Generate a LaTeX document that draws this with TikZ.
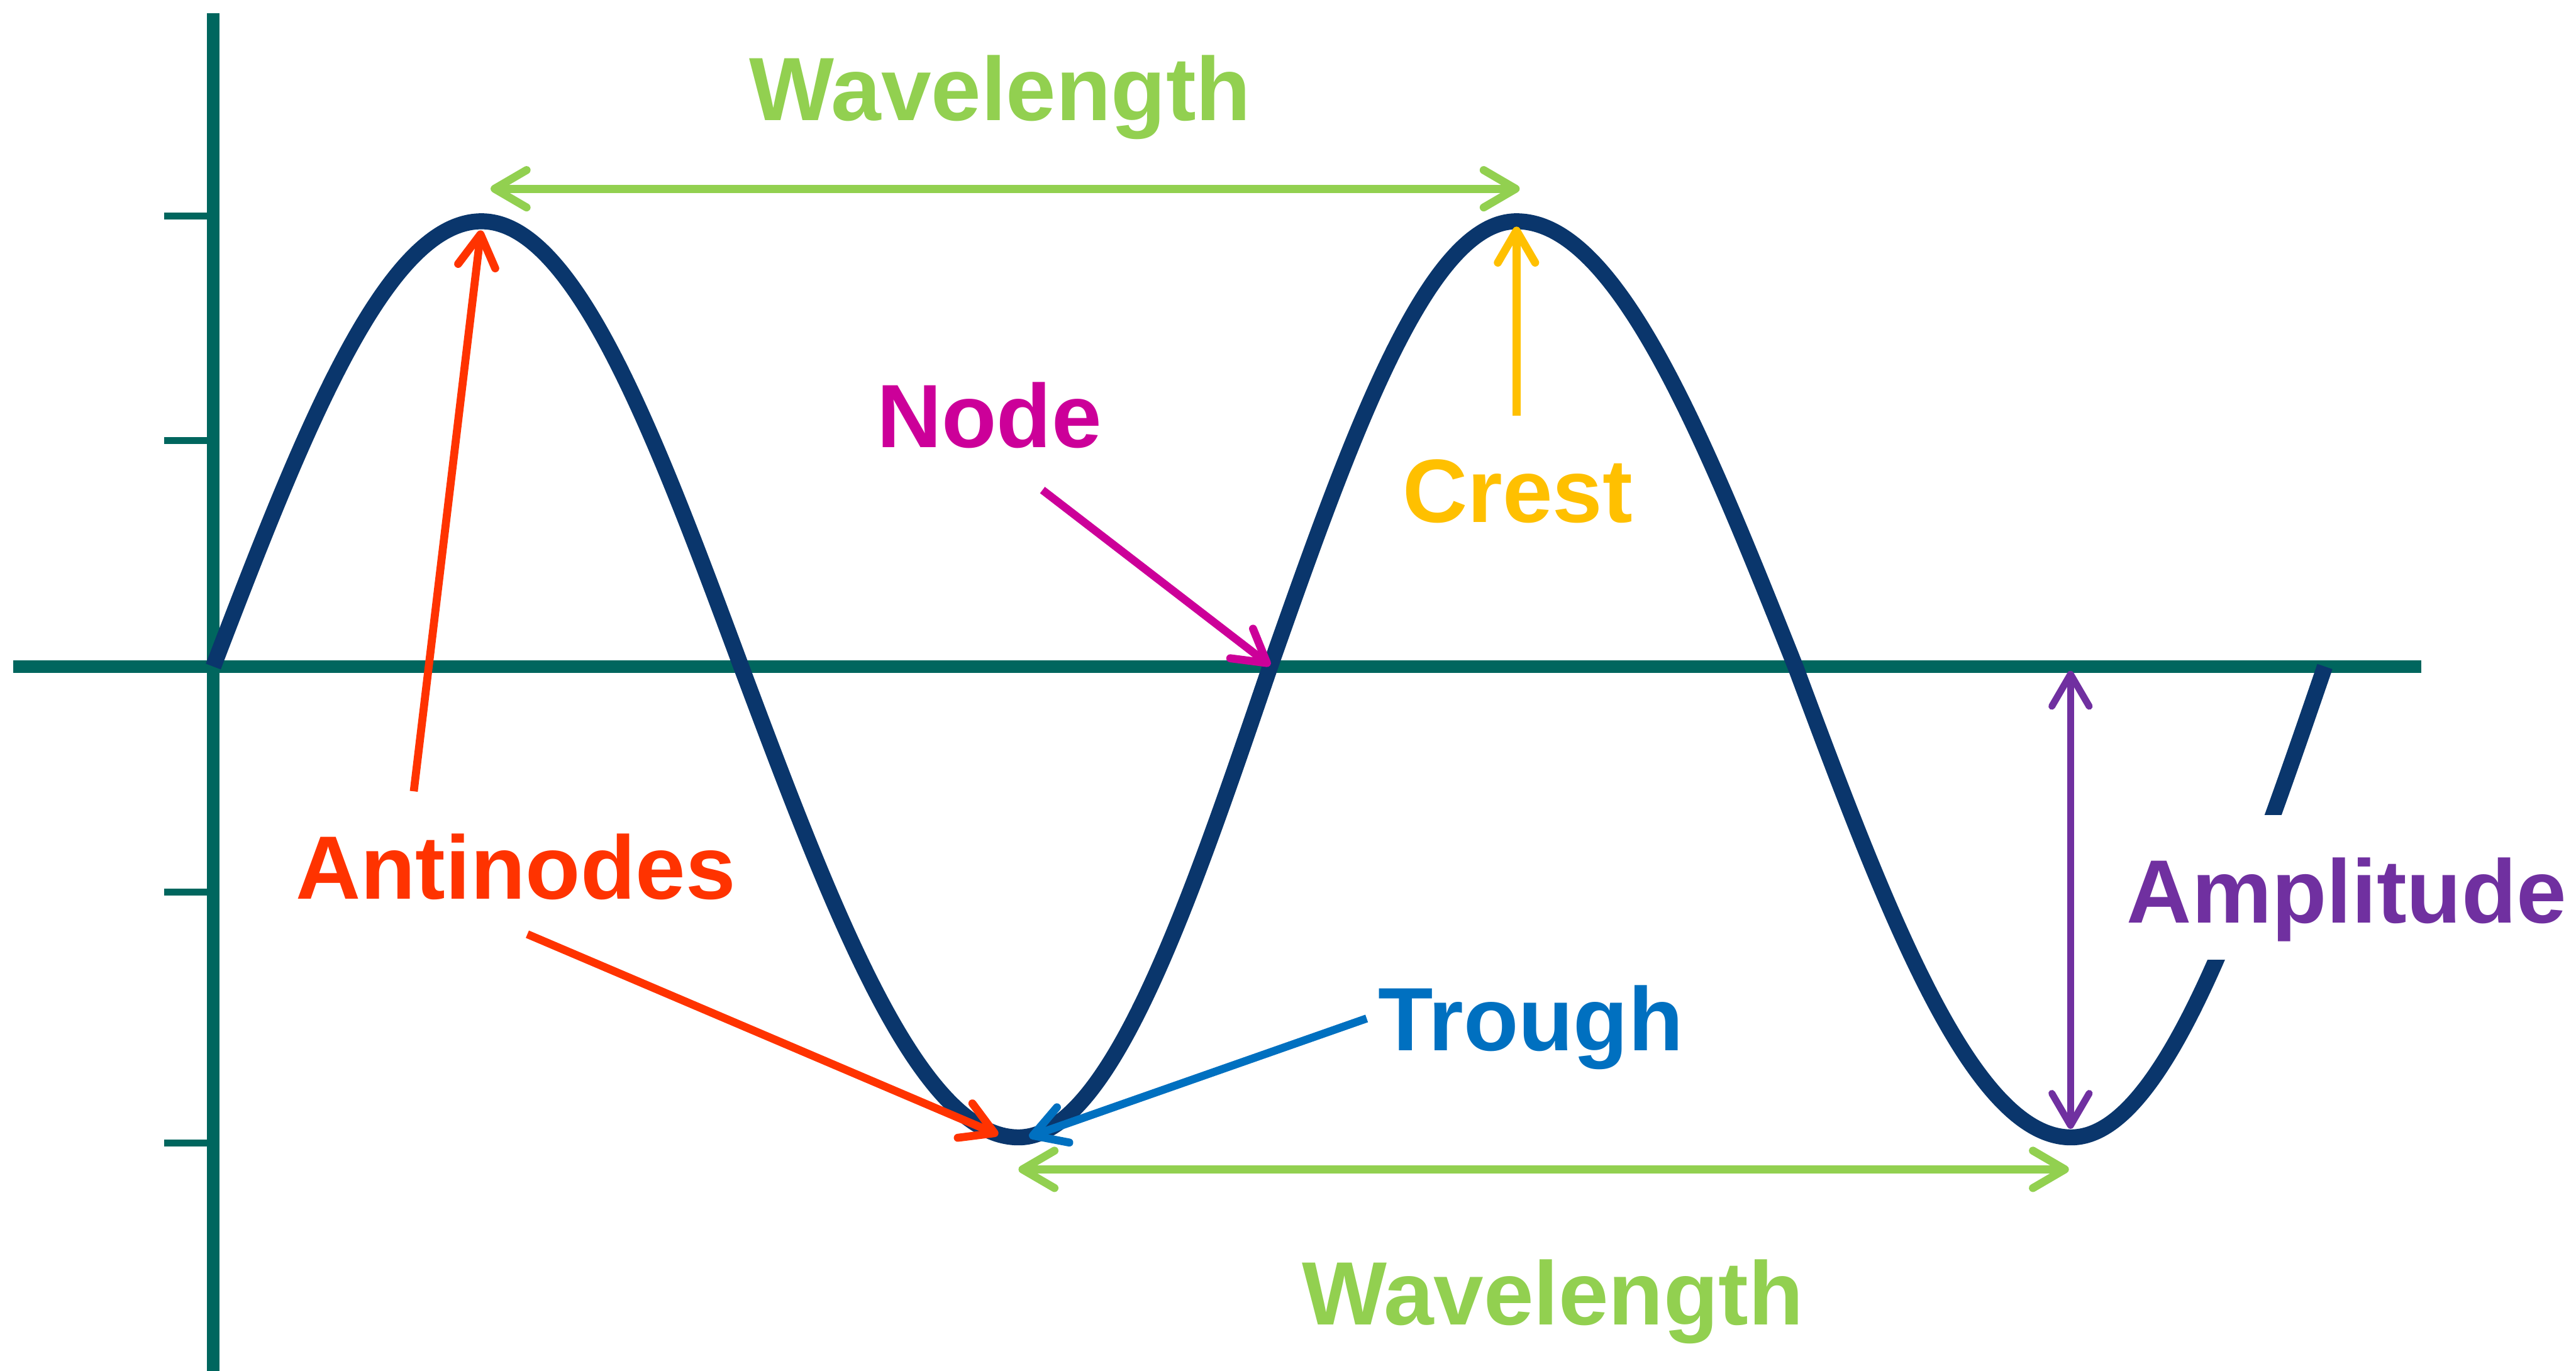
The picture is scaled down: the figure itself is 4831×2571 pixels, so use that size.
\documentclass[tikz,border=0pt]{standalone}
\usepackage{fontspec}
\newfontfamily\lblfont{Liberation Sans}
\usetikzlibrary{arrows.meta}

\definecolor{axisteal}{RGB}{0,102,94}
\definecolor{wavenavy}{RGB}{10,54,108}
\definecolor{wlgreen}{RGB}{146,208,80}
\definecolor{antired}{RGB}{255,51,0}
\definecolor{nodepink}{RGB}{204,0,153}
\definecolor{crestgold}{RGB}{255,192,0}
\definecolor{troughblue}{RGB}{0,112,192}
\definecolor{amppurple}{RGB}{112,48,160}

\begin{document}
\begin{tikzpicture}[x=0.1mm, y=-0.1mm, >={Straight Barb[length=6mm, width=7mm, round]},
		axis/.style={draw=axisteal, line width=2.3mm},
		axtick/.style={draw=axisteal, line width=1.3mm},
		wave/.style={draw=wavenavy, line width=3mm, line join=round},
		lbl/.style={font=\lblfont\bfseries\fontsize{48pt}{50pt}\selectfont, anchor=base, inner sep=0pt, fill=white},
		pointer/.style={line width=1.5mm, ->}]
		\useasboundingbox (0,0) rectangle (4831,2571);
		
		% Eixos
		\draw[axis] (400,25) -- (400,2571);
		\draw[axis] (25,1250) -- (4541,1250);
		\foreach \ty in {405,826,1673,2144}
			\draw[axtick] (308,\ty) -- (400,\ty);
		
		% Pontos da onda
		\coordinate (o) at (400,1250);
		\coordinate (c1) at (903,415);
		\coordinate (z1) at (1390,1250);
		\coordinate (t1) at (1910,2133);
		\coordinate (z2) at (2382,1250);
		\coordinate (c2) at (2844,415);
		\coordinate (z3) at (3367,1250);
		\coordinate (t2) at (3884,2133);
		\coordinate (z4) at (4360,1250);
		
		% Onda
		\draw[wave] (o) sin (c1) cos (z1) sin (t1) cos (z2) sin (c2) cos (z3) sin (t2) cos (z4);
		
		% Rotulos
		\node[lbl, text=wlgreen] (wltop) at (1876,226) {Wavelength};
		\node[lbl, text=nodepink] (nodelbl) at (1855,839) {Node};
		\node[lbl, text=crestgold] (crestlbl) at (2846,979) {Crest};
		\node[lbl, text=antired] (antilbl) at (967,1686) {Antinodes};
		\node[lbl, text=troughblue] (troughlbl) at (2871,1970) {Trough};
		\node[lbl, text=wlgreen] (wlbot) at (2912,2484) {Wavelength};
		\node[lbl, text=amppurple, text height=20.2mm, text depth=6.9mm] (amplbl) at (4401,1731) {Amplitude};
		
		% Pontas das setas
		\coordinate (wlt1) at (920,354);
		\coordinate (wlt2) at (2850,354);
		\coordinate (wlb1) at (1910,2193);
		\coordinate (wlb2) at (3880,2193);
		\coordinate (amp1) at (3883,1258);
		\coordinate (amp2) at (3883,2117);
		\coordinate (nodetail) at (1955,919);
		\coordinate (nodetip) at (2382,1248);
		\coordinate (cresttail) at (2844,780);
		\coordinate (cresttip) at (2844,425);
		\coordinate (antitail1) at (776,1484);
		\coordinate (antitip1) at (902,432);
		\coordinate (antitail2) at (989,1752);
		\coordinate (antitip2) at (1872,2128);
		\coordinate (troughtail) at (2563,1910);
		\coordinate (troughtip) at (1930,2132);
		
		% Setas
		\draw[pointer, <->, draw=wlgreen] (wlt1) -- (wlt2);
		\draw[pointer, <->, draw=wlgreen] (wlb1) -- (wlb2);
		\draw[pointer, <->, draw=amppurple, line width=1.3mm] (amp1) -- (amp2);
		\draw[pointer, draw=nodepink] (nodetail) -- (nodetip);
		\draw[pointer, draw=crestgold] (cresttail) -- (cresttip);
		\draw[pointer, draw=antired] (antitail1) -- (antitip1);
		\draw[pointer, draw=antired] (antitail2) -- (antitip2);
		\draw[pointer, draw=troughblue] (troughtail) -- (troughtip);
	\end{tikzpicture}
\end{document}
